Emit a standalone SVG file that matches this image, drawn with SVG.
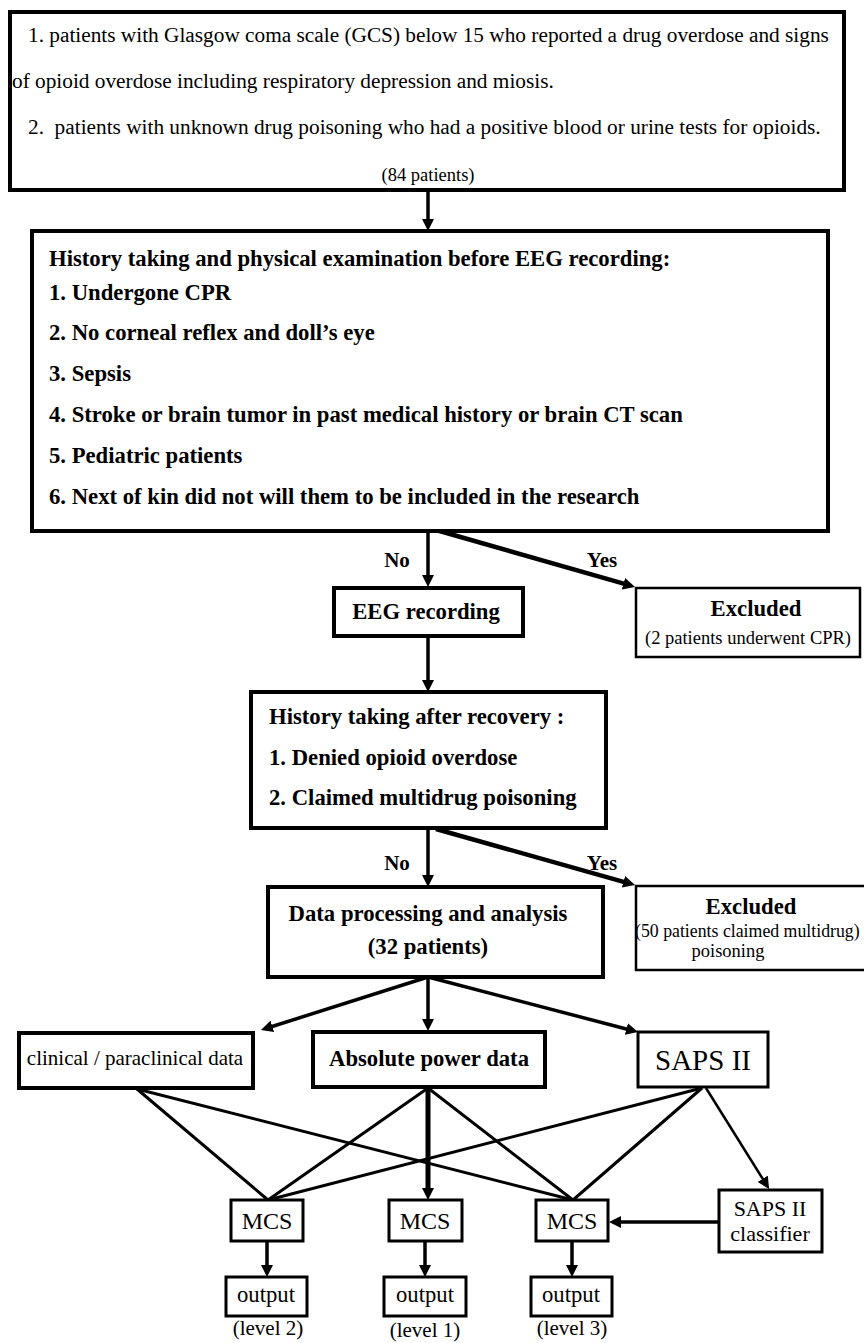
<svg xmlns="http://www.w3.org/2000/svg" width="864" height="1343" viewBox="0 0 864 1343">
<style>
text{font-family:"Liberation Serif","Times New Roman",serif;fill:#000}
.r{font-size:21.3px}
.b{font-size:22.7px;font-weight:bold}
.s{font-size:18.5px}
.m{text-anchor:middle}
.box{fill:#fff;stroke:#000}
.t4{stroke-width:4}
.t3{stroke-width:3}
.t25{stroke-width:2.5}
.c{fill:none;stroke:#000}
</style>
<defs>
<marker id="ah" viewBox="0 0 12 12" refX="2" refY="6" markerWidth="12" markerHeight="12" markerUnits="userSpaceOnUse" orient="auto">
<path d="M0,0 L12,6 L0,12 z" fill="#000"/>
</marker>
</defs>
<rect width="864" height="1343" fill="#fff"/>

<g id="connectors">
<line class="c" x1="428" y1="190" x2="428" y2="221" stroke-width="3.5" marker-end="url(#ah)"/>
<line class="c" x1="428" y1="532" x2="428" y2="577" stroke-width="3.5" marker-end="url(#ah)"/>
<line class="c" x1="436" y1="530" x2="625.4" y2="584.2" stroke-width="4.5" marker-end="url(#ah)"/>
<line class="c" x1="428" y1="636" x2="428" y2="682" stroke-width="3.5" marker-end="url(#ah)"/>
<line class="c" x1="428" y1="829" x2="428" y2="877" stroke-width="3.5" marker-end="url(#ah)"/>
<line class="c" x1="436" y1="829" x2="625.4" y2="882.3" stroke-width="4.5" marker-end="url(#ah)"/>
<line class="c" x1="428" y1="977" x2="270.5" y2="1027" stroke-width="3.5" marker-end="url(#ah)"/>
<line class="c" x1="428" y1="977" x2="428" y2="1021" stroke-width="3.5" marker-end="url(#ah)"/>
<line class="c" x1="428" y1="977" x2="628.3" y2="1029.5" stroke-width="3.5" marker-end="url(#ah)"/>
<line class="c" x1="137" y1="1089" x2="268" y2="1200" stroke-width="3"/>
<line class="c" x1="137" y1="1089" x2="573" y2="1200" stroke-width="3"/>
<line class="c" x1="428" y1="1088" x2="268" y2="1200" stroke-width="3"/>
<line class="c" x1="428" y1="1088" x2="573" y2="1200" stroke-width="3"/>
<line class="c" x1="428" y1="1088" x2="428" y2="1190" stroke-width="5" marker-end="url(#ah)"/>
<line class="c" x1="702" y1="1088" x2="268" y2="1200" stroke-width="3"/>
<line class="c" x1="702" y1="1088" x2="573" y2="1200" stroke-width="3"/>
<line class="c" x1="706" y1="1088" x2="763.8" y2="1180.5" stroke-width="2.5" marker-end="url(#ah)"/>
<line class="c" x1="719" y1="1222" x2="619" y2="1222" stroke-width="3.5" marker-end="url(#ah)"/>
<line class="c" x1="267" y1="1241" x2="267" y2="1267" stroke-width="3.5" marker-end="url(#ah)"/>
<line class="c" x1="425" y1="1241" x2="425" y2="1267" stroke-width="3.5" marker-end="url(#ah)"/>
<line class="c" x1="572" y1="1241" x2="572" y2="1267" stroke-width="3.5" marker-end="url(#ah)"/>
<text class="b m" x="397" y="567" style="font-size:21px">No</text>
<text class="b m" x="602" y="567" style="font-size:21px">Yes</text>
<text class="b m" x="397" y="870" style="font-size:21px">No</text>
<text class="b m" x="602" y="870" style="font-size:21px">Yes</text>
</g>

<g id="inclusion">
<rect class="box t4" x="10" y="12" width="834" height="178"/>
<text class="r" x="28" y="42">1. patients with Glasgow coma scale (GCS) below 15 who reported a drug overdose and signs</text>
<text class="r" x="12" y="88">of opioid overdose including respiratory depression and miosis.</text>
<text class="r" x="28" y="134" xml:space="preserve">2.  patients with unknown drug poisoning who had a positive blood or urine tests for opioids.</text>
<text class="s m" x="428" y="181">(84 patients)</text>
</g>

<g id="exclusion-criteria">
<rect class="box t4" x="32" y="231" width="796" height="300"/>
<text class="b" x="49" y="266">History taking and physical examination before EEG recording:</text>
<text class="b" x="49" y="300">1. Undergone CPR</text>
<text class="b" x="49" y="340">2. No corneal reflex and doll’s eye</text>
<text class="b" x="49" y="381">3. Sepsis</text>
<text class="b" x="49" y="422">4. Stroke or brain tumor in past medical history or brain CT scan</text>
<text class="b" x="49" y="463">5. Pediatric patients</text>
<text class="b" x="49" y="504">6. Next of kin did not will them to be included in the research</text>
</g>

<g id="eeg-recording">
<rect class="box t4" x="334" y="588" width="189" height="48"/>
<text class="b m" x="426" y="619">EEG recording</text>
</g>

<g id="excluded-1">
<rect class="box t25" x="636" y="588" width="224" height="69"/>
<text class="b m" x="756" y="616">Excluded</text>
<text class="s m" x="748" y="644">(2 patients underwent CPR)</text>
</g>

<g id="history-after-recovery">
<rect class="box t4" x="251" y="692" width="355" height="136"/>
<text class="b" x="269" y="724">History taking after recovery :</text>
<text class="b" x="269" y="765">1. Denied opioid overdose</text>
<text class="b" x="269" y="805">2. Claimed multidrug poisoning</text>
</g>

<g id="excluded-2">
<rect class="box t25" x="636" y="886" width="230" height="84"/>
<text class="b m" x="751" y="914">Excluded</text>
<text class="s" x="635" y="937" style="font-size:17.8px">(50 patients claimed multidrug)</text>
<text class="s m" x="728" y="957">poisoning</text>
</g>

<g id="data-processing">
<rect class="box t4" x="268" y="887" width="335" height="90"/>
<text class="b m" x="428" y="921">Data processing and analysis</text>
<text class="b m" x="428" y="954">(32 patients)</text>
</g>

<g id="clinical-data">
<rect class="box t4" x="19" y="1033" width="234" height="55"/>
<text class="r m" x="135" y="1065" style="font-size:21px">clinical / paraclinical data</text>
</g>

<g id="absolute-power">
<rect class="box t4" x="313" y="1032" width="232" height="55"/>
<text class="b m" x="429" y="1066">Absolute power data</text>
</g>

<g id="saps-ii">
<rect class="box t3" x="638" y="1032" width="130" height="55"/>
<text class="m" x="703" y="1070" style="font-size:29px">SAPS II</text>
</g>

<g id="saps-classifier">
<rect class="box t3" x="719" y="1190" width="103" height="62"/>
<text class="m" x="770" y="1216" style="font-size:22px">SAPS II</text>
<text class="m" x="770" y="1241" style="font-size:22px">classifier</text>
</g>

<g id="mcs-1">
<rect class="box t3" x="231" y="1200" width="72" height="41"/>
<text class="m" x="267" y="1229" style="font-size:24px">MCS</text>
</g>
<g id="mcs-2">
<rect class="box t3" x="389" y="1200" width="73" height="41"/>
<text class="m" x="425" y="1229" style="font-size:24px">MCS</text>
</g>
<g id="mcs-3">
<rect class="box t3" x="536" y="1200" width="72" height="41"/>
<text class="m" x="572" y="1229" style="font-size:24px">MCS</text>
</g>

<g id="output-2">
<rect class="box t3" x="226" y="1277" width="81" height="39"/>
<text class="m" x="266" y="1302" style="font-size:22.7px">output</text>
<text class="m" x="268" y="1335" style="font-size:21px">(level 2)</text>
</g>
<g id="output-1">
<rect class="box t3" x="384" y="1277" width="82" height="39"/>
<text class="m" x="425" y="1302" style="font-size:22.7px">output</text>
<text class="m" x="425" y="1337" style="font-size:21px">(level 1)</text>
</g>
<g id="output-3">
<rect class="box t3" x="531" y="1277" width="81" height="39"/>
<text class="m" x="571" y="1302" style="font-size:22.7px">output</text>
<text class="m" x="572" y="1335" style="font-size:21px">(level 3)</text>
</g>
</svg>
